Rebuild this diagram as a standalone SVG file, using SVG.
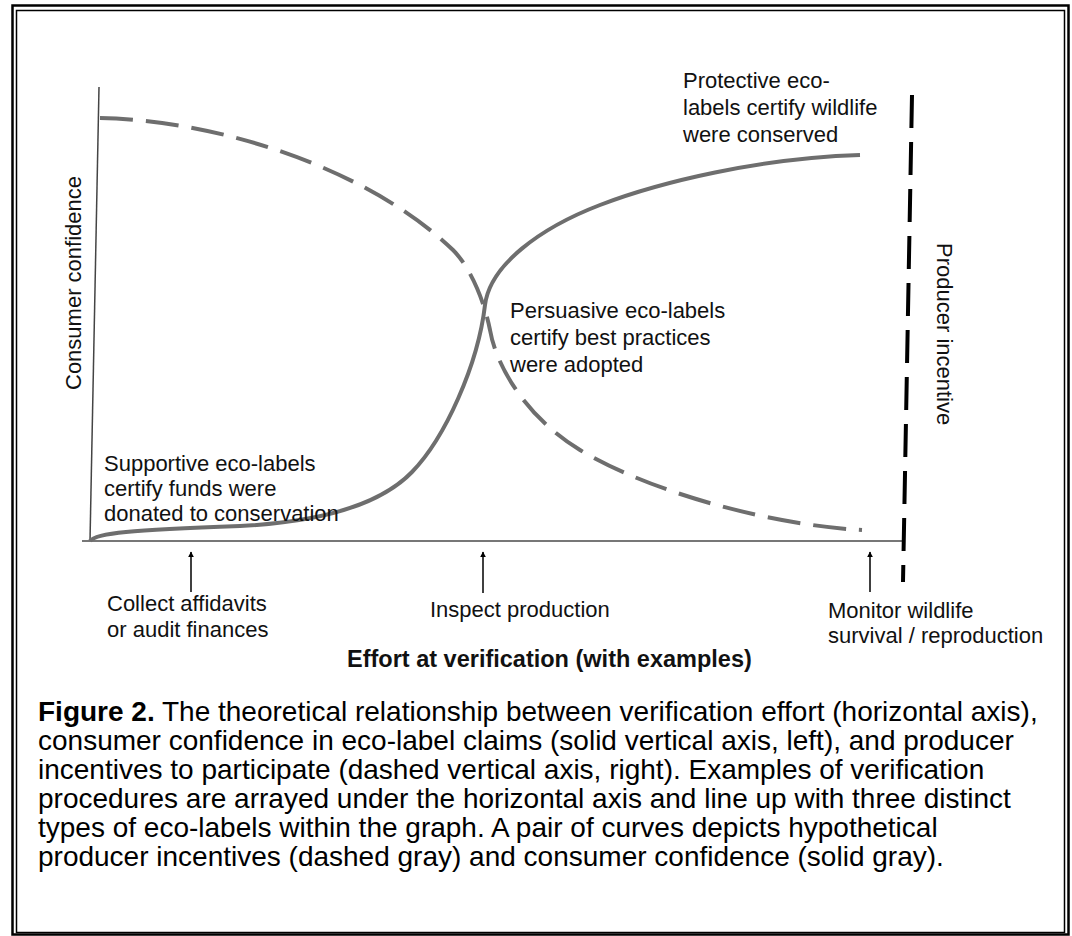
<svg xmlns="http://www.w3.org/2000/svg" width="1072" height="936" viewBox="0 0 1072 936">
<defs>
<style>
.t{font-family:"Liberation Sans",Arial,sans-serif;font-size:22px;fill:#111}
.cap{font-family:"Liberation Sans",Arial,sans-serif;font-size:28px;fill:#000}
.b{font-weight:bold}
.arr{stroke:#000;stroke-width:1.5;fill:none;marker-end:url(#ah)}
</style>
<marker id="ah" viewBox="0 0 10 10" refX="9" refY="5" markerWidth="6" markerHeight="6" orient="auto" markerUnits="userSpaceOnUse">
<path d="M0,0 L10,5 L0,10 z" fill="#000"/>
</marker>
</defs>
<rect width="1072" height="936" fill="#fff"/>
<g id="frame" fill="none" stroke="#000">
<rect x="12.5" y="5.5" width="1056" height="929" stroke-width="2.5"/>
<rect x="16.5" y="10.5" width="1048" height="922" stroke-width="1.5"/>
</g>
<g id="axes">
<line x1="99" y1="87" x2="90" y2="541" stroke="#444" stroke-width="1.5"/>
<line x1="82" y1="541" x2="905" y2="541" stroke="#777" stroke-width="2.2"/>
<line x1="912" y1="95" x2="903" y2="582" stroke="#000" stroke-width="4" stroke-dasharray="33 14"/>
</g>
<g id="curves" fill="none" stroke="#6e6e6e" stroke-width="4">
<path id="confidence" d="M90,541 C96,533 130,530 240,526 C320,522 380,505 412,472 C445,438 478,365 485,305 C490,265 540,228 600,205 C660,182 760,158 860,155"/>
<path id="incentive" stroke-dasharray="33 13" d="M100,118 C220,120 370,170 453,250 C470,267 484,300 490,330 C497,370 530,420 580,450 C650,492 770,525 862,530"/>
</g>
<g id="connectors">
<line class="arr" x1="191" y1="592" x2="191" y2="552"/>
<line class="arr" x1="483" y1="593" x2="483" y2="552"/>
<line class="arr" x1="870" y1="592" x2="870" y2="552"/>
</g>
<g id="axis-labels">
<text class="t" transform="translate(81,390) rotate(-90)">Consumer confidence</text>
<text class="t" transform="translate(937,243) rotate(90)">Producer incentive</text>
<text class="t b" x="347" y="667" style="font-size:23.5px">Effort at verification (with examples)</text>
</g>
<g id="label-supportive">
<text class="t" x="104" y="471">Supportive eco-labels</text>
<text class="t" x="104" y="496">certify funds were</text>
<text class="t" x="104" y="521">donated to conservation</text>
</g>
<g id="label-persuasive">
<text class="t" x="510" y="318">Persuasive eco-labels</text>
<text class="t" x="510" y="345">certify best practices</text>
<text class="t" x="510" y="372">were adopted</text>
</g>
<g id="label-protective">
<text class="t" x="683" y="88">Protective eco-</text>
<text class="t" x="683" y="115">labels certify wildlife</text>
<text class="t" x="683" y="142">were conserved</text>
</g>
<g id="example-collect">
<text class="t" x="107" y="611">Collect affidavits</text>
<text class="t" x="107" y="637">or audit finances</text>
</g>
<g id="example-inspect">
<text class="t" x="430" y="617">Inspect production</text>
</g>
<g id="example-monitor">
<text class="t" x="828" y="618">Monitor wildlife</text>
<text class="t" x="828" y="643">survival / reproduction</text>
</g>
<g id="caption">
<text class="cap" x="38" y="721"><tspan class="b">Figure 2.</tspan> The theoretical relationship between verification effort (horizontal axis),</text>
<text class="cap" x="38" y="750">consumer confidence in eco-label claims (solid vertical axis, left), and producer</text>
<text class="cap" x="38" y="779">incentives to participate (dashed vertical axis, right). Examples of verification</text>
<text class="cap" x="38" y="808">procedures are arrayed under the horizontal axis and line up with three distinct</text>
<text class="cap" x="38" y="837">types of eco-labels within the graph. A pair of curves depicts hypothetical</text>
<text class="cap" x="38" y="866">producer incentives (dashed gray) and consumer confidence (solid gray).</text>
</g>
</svg>
